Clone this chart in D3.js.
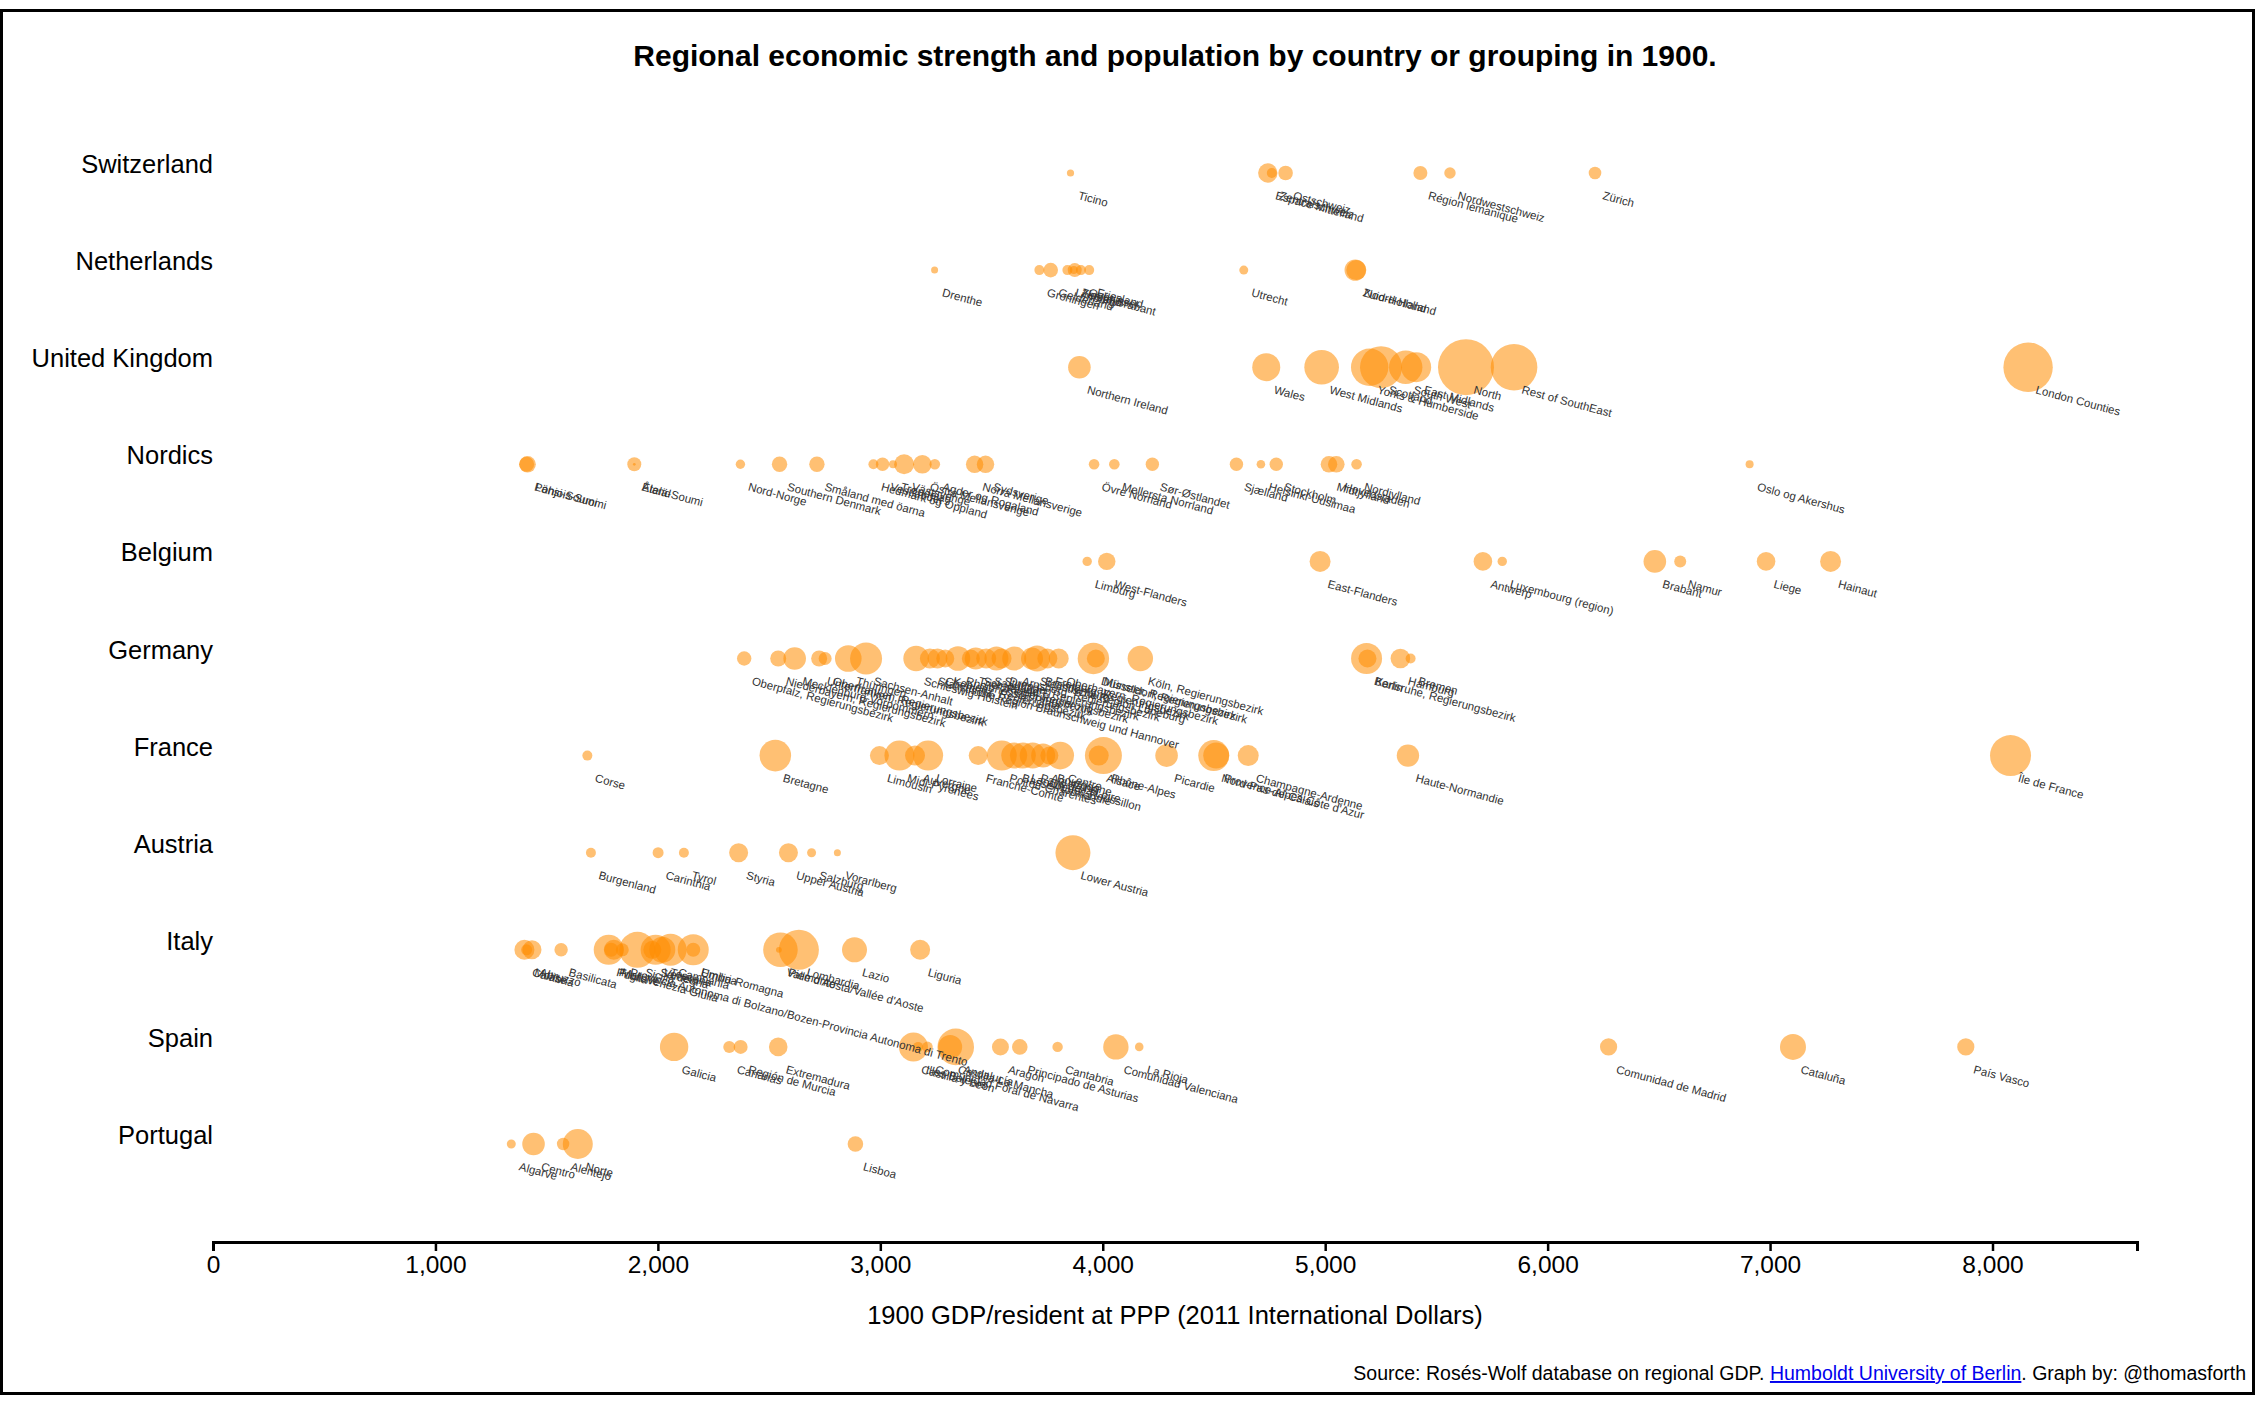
<!DOCTYPE html>
<html>
<head>
<meta charset="utf-8">
<script src="https://cdnjs.cloudflare.com/ajax/libs/d3/7.8.5/d3.min.js"></script>
<style>
  body { margin: 0; background: #fff; }
  svg { display: block; font-family: "Liberation Sans", Arial, sans-serif; }
</style>
</head>
<body>
<svg id="chart"></svg>
<script>
// rows, top to bottom
const countries = ["Switzerland", "Netherlands", "United Kingdom", "Nordics", "Belgium",
  "Germany", "France", "Austria", "Italy", "Spain", "Portugal"];

// [region, GDP per resident 1900, population (thousands)]
const switzerland = [
  ["Ticino", 3855, 140], ["Espace Mittelland", 4742, 1018], ["Zentralschweiz", 4760, 270],
  ["Ostschweiz", 4822, 577], ["Région lémanique", 5428, 530], ["Nordwestschweiz", 5561, 352],
  ["Zürich", 6213, 429]
];
const netherlands = [
  ["Drenthe", 3244, 133], ["Groningen", 3715, 270], ["Gelderland", 3766, 577],
  ["Limburg", 3841, 270], ["Zeeland", 3870, 173], ["Noord-Brabant", 3874, 530],
  ["Overijssel", 3902, 270], ["Friesland", 3939, 270], ["Utrecht", 4634, 219],
  ["Zuid-Holland", 5135, 1239], ["Noord-Holland", 5140, 1082]
];
const unitedKingdom = [
  ["Northern Ireland", 3895, 1382], ["Wales", 4735, 2121], ["West Midlands", 4984, 3238],
  ["Yorks & Humberside", 5200, 3784], ["Scotland", 5251, 4772], ["South West", 5362, 3018],
  ["East Midlands", 5409, 2435], ["North", 5633, 8483], ["Rest of SouthEast", 5849, 5874],
  ["London Counties", 8160, 6601]
];
const nordics = [
  ["Pohjois-Suomi", 1410, 609], ["Länsi-Soumi", 1414, 745], ["Åland", 1894, 20],
  ["Etelä-Soumi", 1894, 530], ["Nord-Norge", 2371, 239], ["Southern Denmark", 2547, 641],
  ["Småland med öarna", 2715, 641], ["Hedmark og Oppland", 2969, 270], ["Vestlandet", 3010, 486],
  ["Trøndelag", 3057, 173], ["Västsverige", 3107, 1082], ["Östra Mellansverige", 3189, 936],
  ["Agder og Rogaland", 3245, 304], ["Norra Mellansverige", 3424, 819], ["Sydsverige", 3473, 819],
  ["Övre Norrland", 3961, 304], ["Mellersta Norrland", 4052, 304], ["Sør-Østlandet", 4223, 486],
  ["Sjælland", 4601, 486], ["Helsinki-Uusimaa", 4711, 200], ["Stockholm", 4780, 486],
  ["Midtjylland", 5017, 745], ["Hovedstaden", 5050, 745], ["Nordjylland", 5141, 304],
  ["Oslo og Akershus", 6908, 173]
];
const belgium = [
  ["Limburg", 3930, 239], ["West-Flanders", 4018, 819], ["East-Flanders", 4977, 1193],
  ["Antwerp", 5709, 936], ["Luxembourg (region)", 5796, 239], ["Brabant", 6482, 1382],
  ["Namur", 6596, 390], ["Liege", 6982, 936], ["Hainaut", 7272, 1193]
];
const germany = [
  ["Oberpfalz, Regierungsbezirk", 2388, 561], ["Niederbayern, Regierungsbezirk", 2541, 692],
  ["Mecklenburg-Vorpommern", 2615, 1382], ["Unterfranken, Regierungsbezirk", 2725, 692],
  ["Oberfranken, Regierungsbezirk", 2752, 457], ["Thüringen", 2856, 1914],
  ["Sachsen-Anhalt", 2936, 2770], ["Schleswig-Holstein", 3161, 1773],
  ["Statistische Region Braunschweig und Hannover", 3223, 1082], ["Chemnitz", 3257, 1082],
  ["Koblenz, Regierungsbezirk", 3292, 876], ["Rheinhessen-Pfalz", 3349, 1637],
  ["Trier, Regierungsbezirk", 3407, 876], ["Schwaben, Regierungsbezirk", 3429, 1309],
  ["Saarland", 3476, 1082], ["Stuttgart, Regierungsbezirk", 3522, 1558], ["Dresden", 3545, 1082],
  ["Arnsberg, Regierungsbezirk", 3602, 1558], ["Statistische Region Lüneburg", 3682, 1309],
  ["Brandenburg", 3705, 1829], ["Freiburg, Regierungsbezirk", 3751, 1082],
  ["Oberbayern, Regierungsbezirk", 3802, 1082], ["Düsseldorf, Regierungsbezirk", 3958, 2667],
  ["Münster, Regierungsbezirk", 3969, 876], ["Köln, Regierungsbezirk", 4169, 1745],
  ["Berlin", 5186, 2600], ["Karlsruhe, Regierungsbezirk", 5190, 876],
  ["Hamburg", 5338, 1039], ["Bremen", 5384, 270]
];
const france = [
  ["Corse", 1683, 270], ["Bretagne", 2528, 2701], ["Limousin", 2996, 976],
  ["Midi-Pyrénées", 3086, 2435], ["Auvergne", 3156, 1082], ["Lorraine", 3215, 2435],
  ["Franche-Comté", 3440, 976], ["Poitou-Charentes", 3546, 2435], ["Basse-Normandie", 3602, 1829],
  ["Languedoc-Roussillon", 3641, 1829], ["Pays de la Loire", 3685, 1829], ["Aquitaine", 3732, 1558],
  ["Bourgogne", 3760, 876], ["Centre", 3809, 2061], ["Alsace", 3982, 1082],
  ["Rhône-Alpes", 4003, 3703], ["Picardie", 4287, 1382], ["Nord-Pas-de-Calais", 4499, 2600],
  ["Provence-Alpes-Côte d'Azur", 4510, 1829], ["Champagne-Ardenne", 4654, 1193],
  ["Haute-Normandie", 5372, 1357], ["Île de France", 8081, 4547]
];
const austria = [
  ["Burgenland", 1699, 270], ["Carinthia", 2001, 327], ["Tyrol", 2117, 270],
  ["Styria", 2363, 976], ["Upper Austria", 2587, 976], ["Salzburg", 2691, 219],
  ["Vorarlberg", 2807, 133], ["Lower Austria", 3866, 3314]
];
const italy = [
  ["Calabria", 1400, 1082], ["Molise", 1410, 327], ["Abruzzo", 1434, 976],
  ["Basilicata", 1565, 486], ["Puglia", 1779, 2435], ["Friuli-Venezia Giulia", 1790, 530],
  ["Marche", 1802, 1082], ["Provincia Autonoma di Bolzano/Bozen-Provincia Autonoma di Trento", 1840, 457],
  ["Sicilia", 1908, 3506], ["Sardegna", 1975, 876], ["Veneto", 1990, 2435],
  ["Toscana", 2020, 1829], ["Campania", 2057, 2770], ["Emilia-Romagna", 2159, 2600],
  ["Umbria", 2159, 530], ["Valle d'Aosta/Vallée d'Aoste", 2544, 91], ["Piemonte", 2551, 3238],
  ["Lombardia", 2634, 4328], ["Lazio", 2884, 1691], ["Liguria", 3179, 1082]
];
const spain = [
  ["Galicia", 2073, 2182], ["Canarias", 2321, 390], ["Región de Murcia", 2372, 530],
  ["Extremadura", 2541, 936], ["Castilla y León", 3149, 2275], ["Illes Balears", 3170, 270],
  ["Comunidad Foral de Navarra", 3212, 304], ["Castilla-La Mancha", 3314, 1558],
  ["Andalucía", 3339, 3624], ["Aragón", 3540, 782], ["Principado de Asturias", 3627, 658],
  ["Cantabria", 3797, 293], ["Comunidad Valenciana", 4059, 1745], ["La Rioja", 4164, 200],
  ["Comunidad de Madrid", 6274, 800], ["Cataluña", 7103, 1829], ["País Vasco", 7880, 800]
];
const portugal = [
  ["Algarve", 1341, 219], ["Centro", 1441, 1382], ["Alentejo", 1574, 416],
  ["Norte", 1640, 2435], ["Lisboa", 2888, 658]
];

const xTicks = [0, 1000, 2000, 3000, 4000, 5000, 6000, 7000, 8000];

const width = 2256;
const height = 1406;

const svg = d3.select("#chart").attr("width", width).attr("height", height);

const groups = [switzerland, netherlands, unitedKingdom, nordics, belgium,
  germany, france, austria, italy, spain, portugal];

let regions = [];
groups.forEach((g, i) => {
  g.forEach((d) => regions.push({ country: countries[i], name: d[0], gdp: d[1], pop: d[2] }));
});

const xScale = d3.scaleLinear()
  .domain([0, d3.max(regions, (d) => d.gdp) * 1.06])
  .range([213, 2137]);

const yScale = d3.scalePoint()
  .domain(countries)
  .range([173, 1144]);

const rScale = d3.scaleSqrt()
  .domain([0, 10000])
  .range([0, 30.4]);

const midX = (xScale.range()[0] + xScale.range()[1]) / 2;

// frame
svg.append("rect")
  .attr("x", 1.5).attr("y", 10.5)
  .attr("width", 2252).attr("height", 1383)
  .attr("fill", "none").attr("stroke", "#000").attr("stroke-width", 3);

svg.append("text")
  .attr("x", midX)
  .attr("y", 66)
  .attr("text-anchor", "middle")
  .attr("font-size", 30)
  .attr("font-weight", "bold")
  .text("Regional economic strength and population by country or grouping in 1900.");

svg.append("g")
  .selectAll("text")
  .data(countries)
  .enter()
  .append("text")
  .attr("x", 213)
  .attr("y", (d) => yScale(d))
  .attr("text-anchor", "end")
  .attr("font-size", 25.5)
  .text((d) => d);

svg.append("g")
  .selectAll("circle")
  .data(regions)
  .enter()
  .append("circle")
  .attr("cx", (d) => xScale(d.gdp))
  .attr("cy", (d) => yScale(d.country))
  .attr("r", (d) => rScale(d.pop))
  .attr("fill", "darkorange")
  .attr("fill-opacity", 0.55);

svg.append("g")
  .selectAll("text")
  .data(regions)
  .enter()
  .append("text")
  .attr("transform", (d) => `translate(${xScale(d.gdp) + 7},${yScale(d.country) + 26}) rotate(15)`)
  .attr("font-size", 11.5)
  .attr("fill", "#333")
  .text((d) => d.name);

const xAxis = d3.axisBottom(xScale)
  .tickValues(xTicks)
  .tickFormat(d3.format(","))
  .tickSize(9)
  .tickPadding(5);

const axisG = svg.append("g")
  .attr("transform", "translate(0,1242)")
  .call(xAxis);
axisG.select(".domain").attr("stroke-width", 3);
axisG.selectAll(".tick line").attr("stroke-width", 2.5);
axisG.selectAll(".tick text")
  .attr("font-size", 24.5)
  .attr("font-family", "'Liberation Sans', Arial, sans-serif")
  .attr("fill", "#000");

svg.append("text")
  .attr("x", midX)
  .attr("y", 1324)
  .attr("text-anchor", "middle")
  .attr("font-size", 25.5)
  .text("1900 GDP/resident at PPP (2011 International Dollars)");

const source = svg.append("text")
  .attr("x", 2246)
  .attr("y", 1380)
  .attr("text-anchor", "end")
  .attr("font-size", 19.5);
source.append("tspan").text("Source: Rosés-Wolf database on regional GDP. ");
source.append("tspan")
  .attr("fill", "#0000ee")
  .attr("text-decoration", "underline")
  .text("Humboldt University of Berlin");
source.append("tspan").text(". Graph by: @thomasforth");
</script>
</body>
</html>
